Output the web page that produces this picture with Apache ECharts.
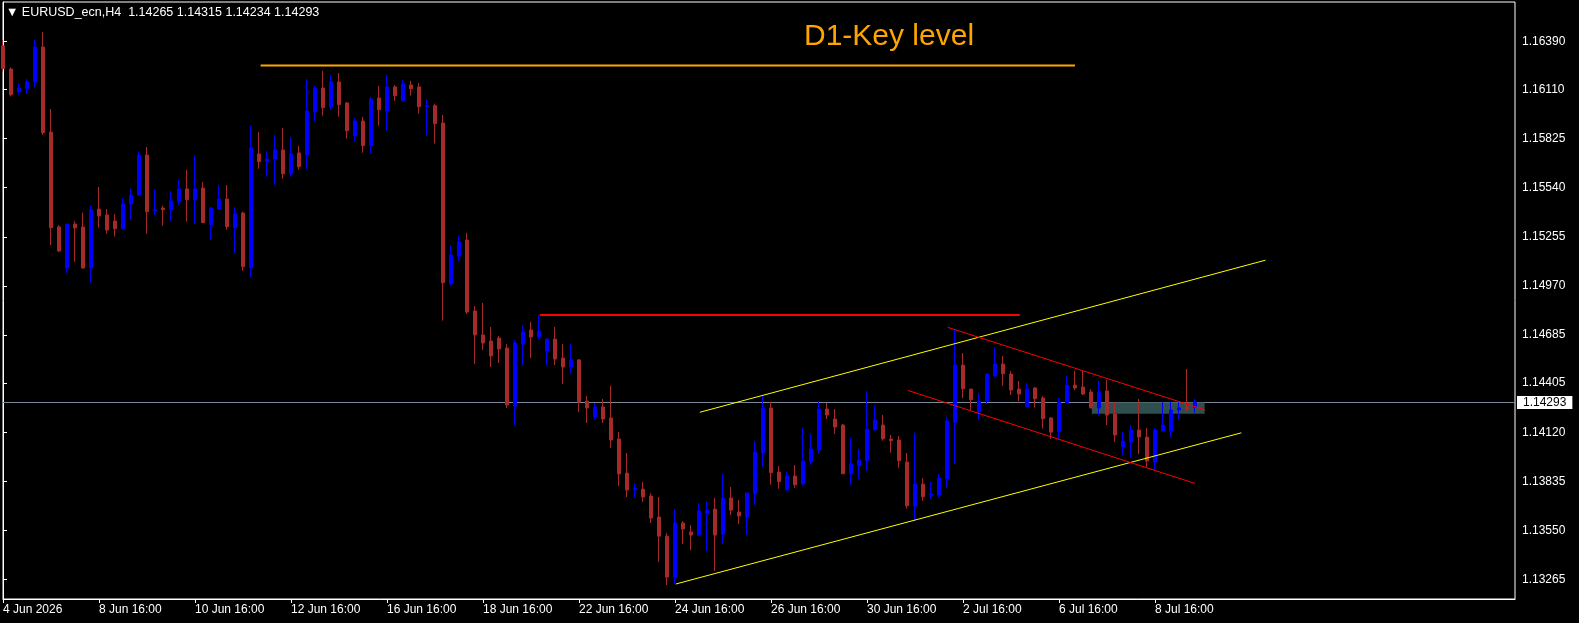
<!DOCTYPE html>
<html>
<head>
<meta charset="utf-8">
<script src="https://cdn.jsdelivr.net/npm/echarts@6/dist/echarts.min.js"></script>
<style>
html,body{margin:0;padding:0;background:#000;}
#chart{width:1579px;height:623px;}
</style>
</head>
<body>
<div id="chart"></div>
<script>
// ---- Data (EURUSD_ecn, H4) : open / high / low / close per bar ----
const openP = [
1.16363,1.16229,1.16098,1.16115,1.16154,1.16357,1.15863,1.15312,1.15074,1.15329,
1.15312,1.15074,1.15416,1.15382,1.15347,1.15302,1.15445,1.15498,1.15730,1.15405,
1.15422,1.15412,1.15459,1.15533,1.15470,1.15538,1.15325,1.15416,1.15474,1.15308,
1.15393,1.15076,1.15736,1.15691,1.15707,1.15759,1.15621,1.15742,1.15730,1.15981,
1.16119,1.16009,1.16154,1.16032,1.15842,1.15927,1.15784,1.16061,1.15985,1.16125,
1.16045,1.16136,1.16125,1.16010,1.16016,1.15916,1.14983,1.15143,1.15236,1.14824,
1.14685,1.14650,1.14667,1.14609,1.14272,1.14632,1.14714,1.14673,1.14592,1.14661,
1.14551,1.14499,1.14540,1.14301,1.14209,1.14267,1.14203,1.14081,1.13883,1.13786,
1.13790,1.13750,1.13628,1.13517,1.13279,1.13593,1.13541,1.13523,1.13651,1.13674,
1.13529,1.13738,1.13657,1.13628,1.13763,1.14000,1.14261,1.13889,1.13786,1.13866,
1.13821,1.13949,1.14019,1.14255,1.14197,1.14162,1.13879,1.13926,1.13955,1.14135,
1.14162,1.14081,1.14075,1.13947,1.13692,1.13819,1.13756,1.13756,1.13850,1.14179,
1.14510,1.14371,1.14238,1.14301,1.14447,1.14516,1.14458,1.14371,1.14268,1.14377,
1.14319,1.14203,1.14123,1.14290,1.14394,1.14383,1.14354,1.14261,1.14360,1.14226,
1.14034,1.14063,1.14133,1.14092,1.13947,1.14127,1.14127,1.14249,1.14267,1.14265
];
const highP = [
1.16398,1.16239,1.16146,1.16171,1.16398,1.16444,1.15997,1.15323,1.15329,1.15347,
1.15395,1.15434,1.15544,1.15416,1.15387,1.15480,1.15534,1.15747,1.15776,1.15527,
1.15436,1.15521,1.15585,1.15643,1.15728,1.15573,1.15428,1.15556,1.15556,1.15428,
1.15401,1.15898,1.15863,1.15753,1.15846,1.15887,1.15834,1.15782,1.16171,1.16131,
1.16218,1.16195,1.16206,1.16038,1.15945,1.15951,1.16067,1.16131,1.16195,1.16136,
1.16165,1.16160,1.16148,1.16055,1.16028,1.15962,1.15207,1.15260,1.15277,1.14853,
1.14871,1.14731,1.14679,1.14632,1.14656,1.14743,1.14760,1.14801,1.14661,1.14731,
1.14632,1.14632,1.14545,1.14330,1.14290,1.14313,1.14389,1.14121,1.14000,1.13825,
1.13831,1.13767,1.13744,1.13535,1.13674,1.13605,1.13581,1.13709,1.13721,1.13738,
1.13878,1.13802,1.13727,1.13767,1.14069,1.14330,1.14296,1.13924,1.13889,1.13930,
1.14145,1.14110,1.14301,1.14290,1.14255,1.14168,1.14087,1.14023,1.14360,1.14272,
1.14220,1.14104,1.14098,1.14000,1.14117,1.13854,1.13831,1.13878,1.14209,1.14714,
1.14580,1.14371,1.14348,1.14458,1.14615,1.14563,1.14476,1.14418,1.14406,1.14383,
1.14330,1.14209,1.14319,1.14447,1.14476,1.14476,1.14371,1.14418,1.14423,1.14296,
1.14121,1.14162,1.14313,1.14145,1.14145,1.14296,1.14296,1.14296,1.14487,1.14315
];
const lowP = [
1.16214,1.16069,1.16080,1.16084,1.16121,1.15846,1.15207,1.15168,1.15046,1.15110,
1.15070,1.14988,1.15308,1.15273,1.15256,1.15296,1.15352,1.15492,1.15273,1.15383,
1.15319,1.15347,1.15440,1.15343,1.15331,1.15337,1.15238,1.15411,1.15296,1.15157,
1.15058,1.15017,1.15650,1.15604,1.15557,1.15592,1.15604,1.15645,1.15649,1.15927,
1.15958,1.15993,1.15952,1.15825,1.15807,1.15743,1.15738,1.15900,1.15871,1.16045,
1.16039,1.16074,1.15970,1.15842,1.15796,1.14768,1.14971,1.15114,1.14807,1.14516,
1.14598,1.14499,1.14522,1.14261,1.14162,1.14510,1.14551,1.14661,1.14510,1.14510,
1.14400,1.14458,1.14238,1.14174,1.14191,1.14174,1.14029,1.13808,1.13744,1.13744,
1.13715,1.13593,1.13367,1.13233,1.13239,1.13471,1.13436,1.13517,1.13430,1.13314,
1.13471,1.13639,1.13587,1.13523,1.13699,1.13920,1.13815,1.13792,1.13781,1.13798,
1.13810,1.13932,1.13995,1.14197,1.14110,1.13879,1.13815,1.13850,1.13897,1.14129,
1.14071,1.14001,1.13914,1.13676,1.13603,1.13722,1.13732,1.13744,1.13796,1.13936,
1.14319,1.14249,1.14191,1.14284,1.14441,1.14390,1.14336,1.14301,1.14268,1.14263,
1.14141,1.14082,1.14082,1.14290,1.14365,1.14336,1.14261,1.14220,1.14162,1.14063,
1.13988,1.13970,1.13994,1.13918,1.13901,1.14127,1.14092,1.14191,1.14238,1.14234
];
const closeP = [
1.16231,1.16080,1.16119,1.16154,1.16357,1.15859,1.15308,1.15172,1.15329,1.15306,
1.15074,1.15411,1.15376,1.15294,1.15302,1.15445,1.15498,1.15730,1.15401,1.15412,
1.15412,1.15463,1.15533,1.15470,1.15533,1.15337,1.15422,1.15474,1.15314,1.15387,
1.15081,1.15771,1.15691,1.15707,1.15759,1.15621,1.15736,1.15662,1.15985,1.16119,
1.16005,1.16154,1.16022,1.15871,1.15927,1.15784,1.16055,1.15993,1.16125,1.16074,
1.16142,1.16115,1.16010,1.16016,1.15912,1.14988,1.15149,1.15225,1.14818,1.14685,
1.14638,1.14563,1.14603,1.14278,1.14638,1.14702,1.14673,1.14708,1.14661,1.14545,
1.14499,1.14540,1.14296,1.14261,1.14267,1.14197,1.14075,1.13878,1.13785,1.13796,
1.13744,1.13622,1.13517,1.13279,1.13593,1.13558,1.13523,1.13663,1.13668,1.13523,
1.13738,1.13668,1.13634,1.13767,1.14005,1.14261,1.13885,1.13833,1.13866,1.13815,
1.13953,1.14023,1.14255,1.14220,1.14150,1.13879,1.13936,1.13959,1.14139,1.14191,
1.14082,1.14071,1.13955,1.13693,1.13819,1.13746,1.13761,1.13854,1.14185,1.14510,
1.14373,1.14309,1.14301,1.14458,1.14516,1.14460,1.14365,1.14342,1.14371,1.14315,
1.14199,1.14121,1.14296,1.14394,1.14377,1.14342,1.14261,1.14354,1.14220,1.14104,
1.14069,1.14133,1.14092,1.13953,1.14133,1.14162,1.14249,1.14261,1.14255,1.14293
];

// x-axis: one label every 12 H4 bars (2 trading days)
const tickLabels = ['4 Jun 2026','8 Jun 16:00','10 Jun 16:00','12 Jun 16:00','16 Jun 16:00',
  '18 Jun 16:00','22 Jun 16:00','24 Jun 16:00','26 Jun 16:00','30 Jun 16:00',
  '2 Jul 16:00','6 Jul 16:00','8 Jul 16:00'];
const barsPerLabel = 12;
const slotCount = 190;           // visible bar slots incl. empty space on the right

// price scale ticks
const priceTicks = [1.16390,1.16110,1.15825,1.15540,1.15255,1.14970,1.14685,1.14405,1.14120,1.13835,1.13550,1.13265];
const priceMin = 1.13152, priceMax = 1.16618;
const lastPrice = 1.14293;
const titleText = '\u25BC EURUSD_ecn,H4  1.14265 1.14315 1.14234 1.14293';

// drawn objects: [barIndex, price]
const d1KeyLevel   = [[32.2, 1.16249], [134.0, 1.16249]];
const resistanceH  = [[67.1, 1.14801], [127.1, 1.14801]];
const yellowLower  = [[84.1, 1.13239], [154.8, 1.14117]];
const yellowUpper  = [[87.1, 1.14236], [157.8, 1.15119]];
const redUpper     = [[118.1, 1.14729], [150.3, 1.14249]];
const redLower     = [[113.1, 1.14363], [149.0, 1.13823]];
const zoneRect     = [[136.1, 1.14293, 150.2, 1.14228]];

// ---- build ----
const categories = [];
for (let i = 0; i < slotCount; i++) categories.push(String(i));
const candles = openP.map((o, i) => [o, closeP[i], lowP[i], highP[i]]);

const FONT = "'Liberation Sans', Arial, 'DejaVu Sans', sans-serif";
const isLabelIdx = (i) => i % barsPerLabel === 0 && (i / barsPerLabel) < tickLabels.length;

function lineSeries(data, color, width) {
  return {
    type: 'line', xAxisIndex: 1, yAxisIndex: 0, data: data, symbol: 'none',
    silent: true, z: 5, lineStyle: { color: color, width: width, type: 'solid' },
    animation: false
  };
}

const chart = echarts.init(document.getElementById('chart'), null, { renderer: 'canvas' });
chart.setOption({
  backgroundColor: '#000000',
  animation: false,
  title: [
    { text: titleText, left: 6, top: 6, padding: 0,
      textStyle: { color: '#ffffff', fontSize: 12.5, fontWeight: 'normal', fontFamily: FONT } },
    { text: 'D1-Key level', left: 804, top: 22, padding: 0,
      textStyle: { color: '#FFA500', fontSize: 30, fontWeight: 'normal', fontFamily: FONT } }
  ],
  grid: { left: 2, right: 64, top: 2, bottom: 24, show: true, borderColor: '#ffffff', borderWidth: 1, backgroundColor: '#000000' },
  xAxis: [
    {
      type: 'category', data: categories, boundaryGap: false,
      axisLine: { show: true, lineStyle: { color: '#ffffff', width: 1 } },
      axisTick: { show: true, length: 4, interval: (i) => isLabelIdx(i), lineStyle: { color: '#ffffff' } },
      axisLabel: {
        interval: (i) => isLabelIdx(i),
        formatter: (v, i) => isLabelIdx(Number(v)) ? tickLabels[Number(v) / barsPerLabel] : '',
        color: '#ffffff', fontSize: 12, fontFamily: FONT, align: 'left', margin: 5
      },
      splitLine: { show: false }
    },
    { type: 'value', min: 0, max: slotCount - 1, show: false }
  ],
  yAxis: {
    type: 'value', position: 'right', min: priceMin, max: priceMax,
    axisLine: { show: true, lineStyle: { color: '#ffffff', width: 1 } },
    axisTick: { show: true, length: 4, customValues: priceTicks, lineStyle: { color: '#ffffff' } },
    axisLabel: { customValues: priceTicks, formatter: (v) => v.toFixed(5), color: '#ffffff', fontSize: 12, fontFamily: FONT, margin: 7 },
    splitLine: { show: false }
  },
  series: [
    {
      type: 'custom', xAxisIndex: 1, yAxisIndex: 0, z: 1, silent: true,
      data: zoneRect, encode: { x: [0, 2], y: [1, 3] },
      renderItem: function (params, api) {
        const p1 = api.coord([api.value(0), api.value(1)]);
        const p2 = api.coord([api.value(2), api.value(3)]);
        return { type: 'rect', shape: { x: p1[0], y: p1[1], width: p2[0] - p1[0], height: p2[1] - p1[1] },
                 style: { fill: '#2F4F4F' } };
      }
    },
    {
      type: 'candlestick', xAxisIndex: 0, yAxisIndex: 0, z: 2,
      data: candles, barWidth: 4,
      itemStyle: { color: '#0000FF', color0: '#A52A2A', borderColor: '#0000FF', borderColor0: '#A52A2A', borderWidth: 1 },
      markLine: {
        silent: true, symbol: 'none', animation: false, z: 1, precision: 5,
        data: [{ yAxis: lastPrice }],
        lineStyle: { color: '#778899', width: 1, type: 'solid' },
        label: { show: true, position: 'end', formatter: lastPrice.toFixed(5), distance: 2,
                 backgroundColor: '#ffffff', color: '#000000', fontSize: 12, fontFamily: FONT,
                 padding: [1, 6, 0, 6] }
      }
    },
    lineSeries(d1KeyLevel, '#FFA500', 2),
    lineSeries(resistanceH, '#FF0000', 2),
    lineSeries(yellowLower, '#FFFF00', 1),
    lineSeries(yellowUpper, '#FFFF00', 1),
    lineSeries(redUpper, '#FF0000', 1),
    lineSeries(redLower, '#FF0000', 1)
  ]
});
</script>
</body>
</html>
